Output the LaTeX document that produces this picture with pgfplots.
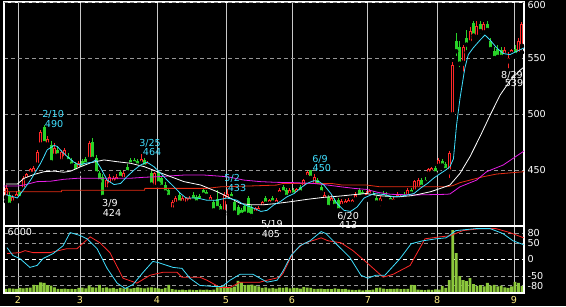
\documentclass[border=0pt]{standalone}
\usepackage{fontspec}
\setmainfont{DejaVu Sans}
\usepackage{pgfplots}
\pgfplotsset{compat=1.18}
\usepackage{pgfplotstable}

\definecolor{cred}{RGB}{255,40,40}
\definecolor{cgreen}{RGB}{40,210,40}
\definecolor{ccyan}{RGB}{64,224,255}
\definecolor{cmag}{RGB}{230,30,230}
\definecolor{cmared}{RGB}{230,45,20}
\definecolor{cvol}{RGB}{140,200,60}
\definecolor{cyel}{RGB}{255,240,130}
\definecolor{cgrid}{RGB}{150,150,150}
\definecolor{cvgrid}{RGB}{200,200,200}
\newcommand\lab{\fontsize{9.6}{10}\selectfont}

\pgfplotstableread{
i o h l c
0 425 437 422 434
1 428 430 416 419
2 420 428 417 426
3 424 431 421 429
4 430 432 422 425
5 432 445 430 443
6 441 447 438 446
7 446 452 444 451
8 446 454 444 452
9 454 468 452 466
10 472 486 470 484
11 488 490 472 474
12 472 480 468 478
13 472 476 455 457
14 462 474 460 470
15 468 471 460 463
16 457 468 455 466
17 460 470 458 468
18 462 465 455 458
19 459 461 452 454
20 455 457 446 449
21 450 458 446 456
22 458 460 450 452
23 460 462 453 455
24 459 476 457 474
25 475 479 458 460
26 461 463 445 447
27 447 449 438 440
28 444 446 424 426
29 432 442 430 441
30 436 446 434 444
31 438 445 436 443
32 439 446 436 444
33 448 450 441 443
34 441 449 438 447
35 453 455 446 448
36 459 461 453 455
37 459 461 454 456
38 458 460 452 454
39 455 464 453 460
40 459 461 451 453
41 453 458 451 456
42 447 449 435 437
43 434 448 432 447
44 447 449 436 438
45 443 445 433 435
46 437 439 428 430
47 432 434 424 426
48 414 423 412 421
49 419 427 417 425
50 428 430 419 421
51 420 427 418 425
52 419 426 417 425
53 421 427 419 425
54 428 430 421 423
55 426 428 419 421
56 427 429 421 423
57 432 434 426 428
58 430 432 425 427
59 421 428 419 426
60 421 423 412 414
61 424 432 415 416
62 418 420 411 413
63 412 430 410 428
64 423 433 421 429
65 429 430 422 425
66 421 423 411 412
67 417 419 406 408
68 414 416 408 410
69 418 420 409 411
70 425 427 409 410
71 417 419 405 409
72 411 417 409 416
73 412 418 410 416
74 416 422 414 421
75 425 427 418 420
76 419 424 417 423
77 425 427 419 421
78 419 425 417 423
79 428 434 426 432
80 435 437 428 430
81 432 434 424 426
82 427 434 425 432
83 432 434 426 428
84 428 434 426 433
85 435 437 429 430
86 434 442 432 441
87 443 449 441 448
88 450 450 441 443
89 436 446 434 444
90 441 443 434 436
91 435 437 428 430
92 423 430 421 428
93 426 428 416 417
94 420 428 418 425
95 423 425 417 418
96 423 425 413 414
97 417 424 415 422
98 418 424 416 422
99 419 425 417 423
100 419 424 417 423
101 423 430 421 428
102 432 434 425 426
103 430 432 425 427
104 425 431 423 429
105 427 433 425 431
106 429 431 424 426
107 425 427 419 421
108 420 427 416 425
109 429 431 425 426
110 428 430 423 425
111 425 427 421 422
112 421 426 419 424
113 424 430 422 428
114 423 428 421 427
115 428 430 424 425
116 426 434 424 432
117 432 434 428 429
118 430 441 428 440
119 433 443 431 441
120 441 443 434 435
121 441 444 437 439
122 446 452 444 451
123 447 453 445 452
124 452 454 446 447
125 453 461 451 459
126 458 460 452 454
127 455 457 448 450
128 448 467 441 465
129 499 546 499 544
130 565 572 550 556
131 560 565 540 545
132 545 562 536 560
133 568 575 555 562
134 563 578 560 574
135 581 583 568 570
136 568 583 566 579
137 580 583 570 574
138 572 582 570 580
139 580 583 572 575
140 565 568 555 558
141 556 560 548 550
142 558 562 549 551
143 557 560 550 551
144 552 560 550 557
145 547 555 539 550
146 553 558 549 557
147 558 562 551 553
148 553 568 550 565
149 560 582 555 580
}\candles

\pgfplotstableread{
i v
0 380
1 420
2 400
3 360
4 450
5 420
6 460
7 480
8 720
9 700
10 950
11 900
12 700
13 650
14 500
15 380
16 360
17 400
18 340
19 380
20 350
21 450
22 480
23 420
24 650
25 500
26 480
27 720
28 450
29 500
30 420
31 460
32 380
33 450
34 420
35 480
36 400
37 440
38 500
39 450
40 420
41 480
42 500
43 450
44 420
45 380
46 450
47 720
48 350
49 300
50 280
51 300
52 260
53 300
54 280
55 250
56 300
57 280
58 300
59 260
60 300
61 500
62 540
63 600
64 520
65 480
66 560
67 1080
68 950
69 700
70 720
71 760
72 650
73 600
74 450
75 500
76 420
77 450
78 400
79 480
80 450
81 500
82 420
83 460
84 450
85 400
86 520
87 480
88 450
89 380
90 360
91 400
92 340
93 380
94 350
95 420
96 360
97 340
98 380
99 300
100 280
101 260
102 300
103 240
104 280
105 260
106 300
107 450
108 480
109 400
110 350
111 380
112 360
113 400
114 340
115 380
116 360
117 720
118 700
119 300
120 280
121 260
122 300
123 280
124 320
125 300
126 630
127 450
128 1160
129 5640
130 3580
131 1520
132 1160
133 1070
134 1340
135 800
136 630
137 700
138 600
139 900
140 650
141 720
142 600
143 650
144 500
145 450
146 600
147 990
148 900
149 630
}\volume

\begin{document}
\begin{tikzpicture}
\fill[black] (0pt,0pt) rectangle (566pt,306pt);
\path[use as bounding box] (0pt,0pt) rectangle (566pt,306pt);

% ---------- main price panel ----------
\begin{axis}[
  at={(4pt,80pt)}, anchor=south west, scale only axis,
  width=520pt, height=224pt,
  xmin=-0.58, xmax=149.58, ymin=400, ymax=600,
  axis line style={white, line width=1.2pt},
  xtick={3.47,21.37,43.6,63.5,82.6,104.5,124.5,146.7}, xticklabels={},
  ytick={450,500,550}, yticklabels={450,500,550},
  extra y ticks={600}, extra y tick labels={600},
  extra y tick style={y tick label style={yshift=-3pt}},
  yticklabel pos=right,
  y tick label style={white, font=\lab},
  major tick length=0pt,
  xmajorgrids, ymajorgrids,
  major x grid style={cvgrid, line width=0.8pt},
  major y grid style={cgrid, line width=0.8pt, dash pattern=on 4pt off 3pt},
  clip mode=individual,
]
% up candles (hollow red)
\addplot[only marks, mark=none, restrict expr to domain={\thisrow{c}-\thisrow{o}}{0.01:1000},
  error bars/.cd, y dir=plus, y explicit, error mark=none,
  error bar style={draw=cred, line width=1pt}]
  table[x=i, y=l, y error expr=\thisrow{h}-\thisrow{l}] {\candles};
\addplot[only marks, mark=none, restrict expr to domain={\thisrow{c}-\thisrow{o}}{0.01:1000},
  error bars/.cd, y dir=plus, y explicit, error mark=none,
  error bar style={draw=cred, line width=3pt}]
  table[x=i, y=o, y error expr=\thisrow{c}-\thisrow{o}] {\candles};
\addplot[only marks, mark=none, restrict expr to domain={\thisrow{c}-\thisrow{o}}{1.9:1000},
  error bars/.cd, y dir=plus, y explicit, error mark=none,
  error bar style={draw=black, line width=1pt}]
  table[x=i, y expr=\thisrow{o}+0.9, y error expr=\thisrow{c}-\thisrow{o}-1.8] {\candles};
% down candles (filled green)
\addplot[only marks, mark=none, restrict expr to domain={\thisrow{o}-\thisrow{c}}{0:1000},
  error bars/.cd, y dir=plus, y explicit, error mark=none,
  error bar style={draw=cgreen, line width=1pt}]
  table[x=i, y=l, y error expr=\thisrow{h}-\thisrow{l}] {\candles};
\addplot[only marks, mark=none, restrict expr to domain={\thisrow{o}-\thisrow{c}}{0:1000},
  error bars/.cd, y dir=plus, y explicit, error mark=none,
  error bar style={draw=cgreen, line width=3pt}]
  table[x=i, y=c, y error expr=\thisrow{o}-\thisrow{c}] {\candles};

% moving averages
\addplot[cmared, line width=0.8pt] coordinates {(-0.6,430.5) (16,430.5) (16.1,432) (40,432) (40.1,433.6) (58,433.6) (62,435) (70,435.7) (78,436.5) (80,438) (94,438) (97,436.6) (104,436.6) (108,435) (127,435) (129,436) (131.1,438.7) (134,441) (137.8,444) (141.7,446.4) (149.6,448.5)};
\addplot[cmag, line width=0.8pt] coordinates {(-0.6,435.7) (3.3,435.7) (5.2,436.6) (9.0,439.6) (12.9,440) (16.7,441.7) (20.6,442.6) (35.8,442.6) (39.9,443.5) (43.7,444) (51.4,445.5) (57.2,445.5) (63.9,444) (68.7,441) (73.5,439.6) (78.0,439) (83.2,438.7) (88.9,438) (92.8,436.6) (96.7,435) (100.5,433.6) (104.0,432.7) (107.4,430) (111.1,428.3) (117.8,427.7) (127.1,428.3) (128.2,428.6) (131.1,435) (135.9,441) (138.8,448.5) (143.6,454.5) (149.6,467)};
\addplot[white, line width=0.8pt] coordinates {(0,437.5) (3.3,437.5) (5.2,442.6) (8.1,446) (11.0,448.5) (13.9,449) (16.7,448) (18.7,449) (21.6,453) (24.5,456.5) (26,457.5) (28.3,459) (32.1,457.4) (36.0,456) (39.9,453) (43.7,448.5) (47.6,444) (51.4,439.6) (56.2,436.6) (61.0,430.6) (64.9,424.7) (67.8,420) (70.7,419) (74.5,419) (77.9,420) (82.2,421.7) (87.0,423.8) (91.8,425.6) (96.7,426.8) (101.4,428.3) (104.0,429) (108.0,427) (112.9,426) (116.9,427) (118.7,428) (122.6,430.6) (125.5,433.6) (128.2,436.6) (131.1,447) (134.0,462) (136.9,480) (139.8,499) (142.7,517) (145.6,530) (148.4,539) (149.6,542)};
\addplot[ccyan, line width=0.8pt] coordinates {(0,428) (3.3,425) (7.1,441) (10.0,456) (11.9,468) (13.9,472) (14.8,471) (16.3,466) (17.7,462) (19.6,457) (21.1,454.5) (23.0,456) (24.9,457) (25.9,459) (27.3,452) (29.2,441) (31.2,437) (33.1,438) (34.9,444) (37.0,450) (38.9,454.5) (40.7,457) (42.7,453) (44.7,447) (46.5,441) (48.5,435) (50.4,429) (52.0,425) (55.2,425) (58.0,423) (60.9,423) (63.8,425) (66.7,423) (68.7,419) (70.7,417) (73.6,413) (75.4,414) (77.4,419) (79.3,422) (81.1,426) (83.2,429) (85.1,434) (86.9,438) (88.9,440.5) (90.4,439.6) (91.8,436.6) (93.8,429) (95.6,420) (97.6,414) (99.5,413) (101.4,417) (103.4,425) (106.3,429) (109.2,428) (112.0,426) (114.9,427) (117.8,429) (119.8,434) (121.7,438) (123.6,443) (125.5,447) (127.0,450) (128.2,453) (129.2,460) (130.1,490) (131.1,514) (132.5,541) (133.5,553) (134.9,559) (136.9,566) (138.3,570.5) (139.8,566) (141.7,559) (143.6,554) (145.5,553) (147.5,556) (149.6,559)};

% high / low annotations
\node[ccyan, font=\lab] at (axis cs:13.6,500) {2/10};
\node[ccyan, font=\lab] at (axis cs:13.9,491.1) {490};
\node[white, font=\lab] at (axis cs:30.0,420.5) {3/9};
\node[white, font=\lab] at (axis cs:30.6,411.6) {424};
\node[ccyan, font=\lab] at (axis cs:41.6,474.1) {3/25};
\node[ccyan, font=\lab] at (axis cs:42.2,466.1) {464};
\node[ccyan, font=\lab] at (axis cs:65.3,442.9) {5/2};
\node[ccyan, font=\lab] at (axis cs:66.7,433.9) {433};
\node[white, font=\lab] at (axis cs:76.8,401.8) {5/19};
\node[white, font=\lab] at (axis cs:76.5,392.9) {405};
\node[ccyan, font=\lab] at (axis cs:90.7,459.8) {6/9};
\node[ccyan, font=\lab] at (axis cs:91.2,451.8) {450};
\node[white, font=\lab] at (axis cs:98.8,408.9) {6/20};
\node[white, font=\lab] at (axis cs:98.8,400.9) {413};
\node[white, font=\lab] at (axis cs:146.1,534.8) {8/29};
\node[white, font=\lab] at (axis cs:146.7,527.7) {539};
\end{axis}

% ---------- lower panel: grid and labels ----------
\begin{axis}[
  at={(4pt,13pt)}, anchor=south west, scale only axis,
  width=520pt, height=67pt,
  xmin=-0.58, xmax=149.58, ymin=-102, ymax=102,
  axis line style={draw=none},
  xtick={3.47,21.37,43.6,63.5,82.6,104.5,124.5,146.7},
  xticklabels={2,3,4,5,6,7,8,9},
  x tick label style={cyel, font=\lab},
  ytick={-80,-50,0,50,80}, yticklabels={-80,-50,0,50,80},
  yticklabel pos=right,
  y tick label style={white, font=\lab},
  major tick length=0pt,
  xmajorgrids, ymajorgrids,
  major x grid style={cvgrid, line width=0.8pt},
  major y grid style={cgrid, line width=0.8pt, dash pattern=on 4pt off 3pt},
]
\addplot[white, line width=0.8pt, dash pattern=on 4pt off 3pt] coordinates {(-0.58,0) (149.58,0)};
\end{axis}

% ---------- lower panel: volume ----------
\begin{axis}[
  at={(4pt,13pt)}, anchor=south west, scale only axis,
  width=520pt, height=67pt,
  xmin=-0.58, xmax=149.58, ymin=0, ymax=6000,
  hide axis,
]
\addplot[ybar, bar width=2.8pt, fill=cvol, draw=none] table[x=i, y=v] {\volume};
\end{axis}

% ---------- lower panel: oscillators ----------
\begin{axis}[
  at={(4pt,13pt)}, anchor=south west, scale only axis,
  width=520pt, height=67pt,
  xmin=-0.58, xmax=149.58, ymin=-102, ymax=102,
  axis line style={white, line width=1.2pt},
  xtick=\empty, ytick=\empty,
  clip mode=individual,
]
\addplot[cred, line width=0.8pt] coordinates {(0.3,18) (4.0,21) (5.5,27) (7.8,21) (12.7,21) (17.6,33) (20.5,33) (24.3,69) (27.1,51) (30.0,21) (33.8,-57) (37.8,-72) (41.6,-48) (45.3,-39) (49.4,-39) (50.8,-54) (56.0,-54) (58.0,-63) (61.8,-85) (64.7,-85) (67.6,-69) (73.3,-69) (75.4,-63) (79.1,-54) (80.0,-42) (82.9,21) (85.8,48) (91.0,66) (93.0,57) (96.7,51) (100.2,27) (105.1,-18) (108.9,-54) (111.8,-45) (116.7,-18) (121.0,63) (125.3,69) (128.2,72) (131.9,88) (136.9,94) (141.5,94) (145.5,82) (149.5,66)};
\addplot[ccyan, line width=0.8pt] coordinates {(0.3,36) (2.0,12) (4.0,3) (6.9,-24) (9.0,-18) (10.7,3) (13.6,18) (16.5,42) (18.5,82) (21.4,73) (23.4,63) (26.3,33) (29.2,-27) (32.1,-72) (34.4,-88) (36.7,-76) (39.6,-39) (42.4,-6) (43.9,-9) (48.2,-24) (50.8,-27) (53.1,-57) (56.0,-79) (59.8,-82) (62.4,-82) (64.7,-63) (67.6,-45) (71.3,-45) (75.4,-69) (78.3,-63) (80.0,-35) (82.3,12) (84.9,42) (87.8,57) (91.0,85) (92.4,79) (95.3,48) (99.3,6) (102.5,-48) (104.5,-57) (106.8,-48) (109.4,-48) (113.8,3) (117.0,48) (120.4,57) (124.2,63) (127.1,66) (129.9,88) (135.7,94) (139.8,94) (143.5,79) (146.4,57) (149.5,45)};
\node[white, font=\lab] at (axis cs:4.0,84) {6000};
\end{axis}
\end{tikzpicture}
\end{document}
